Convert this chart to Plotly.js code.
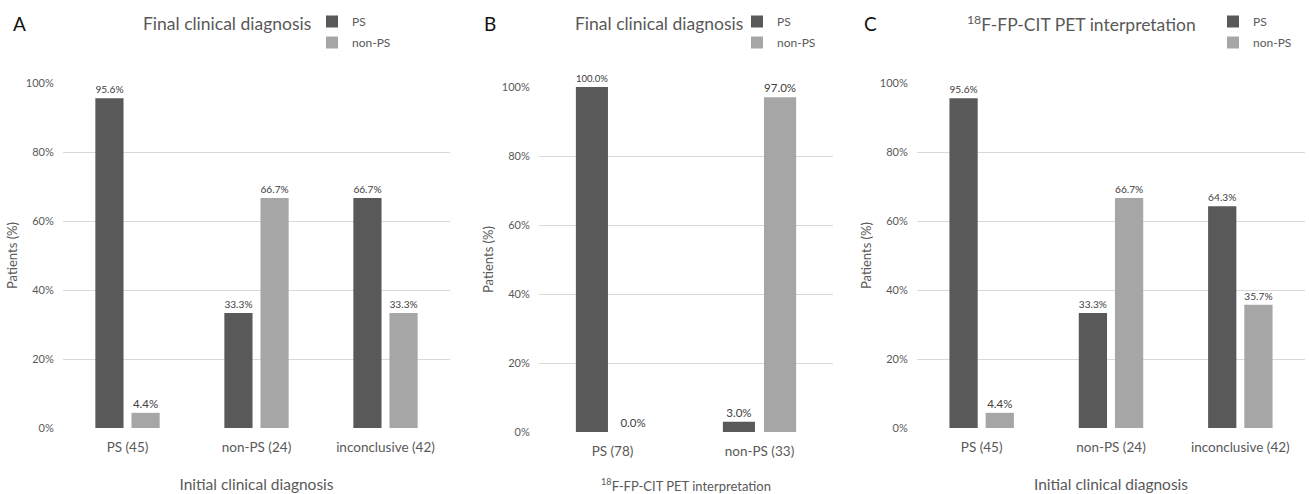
<!DOCTYPE html>
<html>
<head>
<meta charset="utf-8">
<script src="https://cdn.plot.ly/plotly-3.0.1.min.js"></script>
<style>html,body{margin:0;padding:0;background:#fff;}#chart{width:1309px;height:494px;}</style>
</head>
<body>
<div id="chart"></div>
<script>
// ---- data ----
const catsA = ["PS (45)", "non-PS (24)", "inconclusive (42)"];
const psA = [95.6, 33.3, 66.7];
const nonpsA = [4.4, 66.7, 33.3];

const catsB = ["PS (78)", "non-PS (33)"];
const psB = [100.0, 3.0];
const nonpsB = [0.0, 97.0];

const catsC = ["PS (45)", "non-PS (24)", "inconclusive (42)"];
const psC = [95.6, 33.3, 64.3];
const nonpsC = [4.4, 66.7, 35.7];

const seriesNames = ["PS", "non-PS"];
const panelTitles = ["Final clinical diagnosis", "Final clinical diagnosis", "<sup>18</sup>F-FP-CIT PET interpretation"];
const xTitles = ["Initial clinical diagnosis", "<sup>18</sup>F-FP-CIT PET interpretation", "Initial clinical diagnosis"];
const panelLetters = ["A", "B", "C"];
const yTitle = "Patients (%)";

// ---- style ----
const W = 1309, H = 494;
const DARK = "#595959", LIGHT = "#a6a6a6";
const FONT = "Lato, 'Open Sans', sans-serif";
const TXT = "#595959";

function lbl(v){ return v.toFixed(1) + "%"; }

function bar(x, y, name, color, xa, ya, leg, grp){
  return {
    type: "bar", x: x, y: y, name: name,
    marker: {color: color},
    xaxis: xa, yaxis: ya, legend: leg, legendgroup: grp,
    text: y.map(lbl), textposition: "outside", cliponaxis: false,
    textfont: {family: FONT, size: 11.5, color: "#404040"},
    hoverinfo: "skip"
  };
}

const data = [
  bar(catsA, psA, seriesNames[0], DARK, "x", "y", "legend", "a1"),
  bar(catsA, nonpsA, seriesNames[1], LIGHT, "x", "y", "legend", "a2"),
  bar(catsB, psB, seriesNames[0], DARK, "x2", "y2", "legend2", "b1"),
  bar(catsB, nonpsB, seriesNames[1], LIGHT, "x2", "y2", "legend2", "b2"),
  bar(catsC, psC, seriesNames[0], DARK, "x3", "y3", "legend3", "c1"),
  bar(catsC, nonpsC, seriesNames[1], LIGHT, "x3", "y3", "legend3", "c2")
];

// pixel geometry -> paper fractions
const px = v => v / W;
const py = v => 1 - v / H;

function xaxis(d0, d1, title, anchor, tsize, standoff){
  return {
    domain: [px(d0), px(d1)], anchor: anchor,
    showgrid: false, zeroline: false, showline: false,
    ticks: "outside", ticklen: 7, tickcolor: "rgba(0,0,0,0)",
    tickfont: {family: FONT, size: 13.5, color: TXT},
    title: {text: title, font: {family: FONT, size: tsize, color: TXT}, standoff: standoff},
    fixedrange: true
  };
}
function yaxis(top, bottom, anchor){
  return {
    domain: [py(bottom), py(top)], anchor: anchor,
    range: [0, 100], dtick: 20, ticksuffix: "%",
    showgrid: true, gridcolor: "#d9d9d9", gridwidth: 1,
    zeroline: false, showline: false,
    ticks: "outside", ticklen: 6, tickcolor: "rgba(0,0,0,0)",
    tickfont: {family: FONT, size: 11, color: TXT},
    title: {text: yTitle, font: {family: FONT, size: 13, color: TXT}, standoff: 5},
    fixedrange: true
  };
}
function legend(x, y){
  return {
    x: px(x), y: py(y), xanchor: "left", yanchor: "top",
    bgcolor: "rgba(0,0,0,0)", borderwidth: 0,
    font: {family: FONT, size: 12, color: TXT},
    itemwidth: 30, traceorder: "grouped", tracegroupgap: 2
  };
}

const annotations = [];
const titleX = [227, 659, 1081];
const letterX = [19, 490, 871];
for (let i = 0; i < 3; i++){
  annotations.push({xref: "paper", yref: "paper", x: px(titleX[i]), y: py(23), xanchor: "center", yanchor: "middle",
    text: panelTitles[i], showarrow: false, font: {family: FONT, size: 17.5, color: TXT}});
  annotations.push({xref: "paper", yref: "paper", x: px(letterX[i]), y: py(23), xanchor: "center", yanchor: "middle",
    text: panelLetters[i], showarrow: false, font: {family: FONT, size: 19, color: "#111"}});
}

const layout = {
  width: W, height: H,
  margin: {l: 0, r: 0, t: 0, b: 0},
  paper_bgcolor: "#fff", plot_bgcolor: "#fff",
  barmode: "group", bargap: 0.44, bargroupgap: 0.22,
  font: {family: FONT, color: TXT},
  showlegend: true,
  xaxis: xaxis(63, 450, xTitles[0], "y", 15.5, 24),
  yaxis: yaxis(83, 428, "x"),
  xaxis2: xaxis(539, 833, xTitles[1], "y2", 13, 23),
  yaxis2: yaxis(87, 432, "x2"),
  xaxis3: xaxis(917, 1305, xTitles[2], "y3", 15.5, 24),
  yaxis3: yaxis(83, 428, "x3"),
  legend: legend(312, 7),
  legend2: legend(737, 7),
  legend3: legend(1213, 7),
  annotations: annotations
};

Plotly.newPlot("chart", data, layout, {staticPlot: true, displayModeBar: false});
</script>
</body>
</html>
